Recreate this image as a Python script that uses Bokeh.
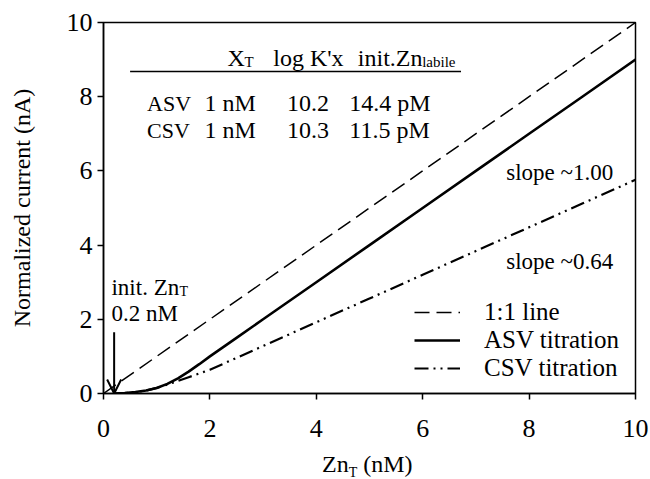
from bokeh.plotting import figure
from bokeh.models import Label, Legend, LegendItem, Arrow, OpenHead, Range1d, FixedTicker, Div
from bokeh.layouts import column
from bokeh.embed import file_html
from bokeh.resources import INLINE

# ---------------- data ----------------
zn_total = [0.2, 0.4, 0.6, 0.8, 1.0, 1.2, 1.4, 1.6, 1.8, 2.0, 2.5, 3.0, 4.0, 5.0, 6.0, 7.0, 8.0, 9.0, 10.0]
asv_current = [0.0, 0.01, 0.04, 0.08, 0.15, 0.26, 0.41, 0.59, 0.79, 1.0, 1.5, 2.0, 3.0, 4.0, 5.0, 6.0, 7.0, 8.0, 9.0]
csv_current = [0.0, 0.01, 0.04, 0.08, 0.15, 0.24, 0.34, 0.44, 0.54, 0.64, 0.96, 1.28, 1.92, 2.56, 3.20, 3.84, 4.48, 5.12, 5.76]
one_to_one_x = [0.0, 10.0]
one_to_one_y = [0.0, 10.0]

x_ticks = [0, 2, 4, 6, 8, 10]
y_ticks = [0, 2, 4, 6, 8, 10]

legend_labels = ["1:1 line", "ASV titration", "CSV titration"]
methods = ["ASV", "CSV"]
ligand_totals = ["1 nM", "1 nM"]
log_k = ["10.2", "10.3"]
init_labile = ["14.4 pM", "11.5 pM"]
init_znt = 0.2
init_znt_label = "0.2 nM"
slope_labels = ["slope ~1.00", "slope ~0.64"]

# ---------------- styling / layout ----------------
FONT = "Liberation Serif"
W, H = 650, 451

p = figure(width=W, height=H, output_backend="svg", toolbar_location=None,
           x_range=Range1d(0, 10), y_range=Range1d(0, 10),
           min_border_left=103, min_border_right=15, min_border_top=22, min_border_bottom=58)
p.grid.visible = False
p.outline_line_color = "black"
p.outline_line_width = 1.5
p.background_fill_color = "white"

for ax, ticks in ((p.xaxis[0], x_ticks), (p.yaxis[0], y_ticks)):
    ax.ticker = FixedTicker(ticks=ticks)
    ax.minor_tick_line_color = None
    ax.major_tick_in = 0
    ax.major_tick_out = 6
    ax.axis_line_width = 1.5
    ax.major_tick_line_width = 1.5
    ax.axis_line_color = "black"
    ax.major_tick_line_color = "black"
    ax.major_label_text_font = FONT
    ax.major_label_text_font_size = "26px"
    ax.major_label_text_color = "black"

p.xaxis.major_label_standoff = 20
p.yaxis.major_label_standoff = 5
p.yaxis.axis_label = "Normalized current (nA)"
p.yaxis.axis_label_text_font = FONT
p.yaxis.axis_label_text_font_size = "24px"
p.yaxis.axis_label_text_font_style = "normal"
p.yaxis.axis_label_text_color = "black"
p.yaxis.axis_label_standoff = 29

# ---------------- lines ----------------
r_11 = p.line(one_to_one_x, one_to_one_y, line_color="black", line_width=1.5, line_dash="15 7")
r_asv = p.line(zn_total, asv_current, line_color="black", line_width=2.6)
r_csv = p.line(zn_total, csv_current, line_color="black", line_width=2.2, line_dash="14 5 2 5 2 5")

legend = Legend(items=[LegendItem(label=legend_labels[0], renderers=[r_11]),
                       LegendItem(label=legend_labels[1], renderers=[r_asv]),
                       LegendItem(label=legend_labels[2], renderers=[r_csv])],
                location=(311, 11), border_line_color=None, background_fill_alpha=0,
                padding=0, margin=0, spacing=0, glyph_width=46, glyph_height=28,
                label_height=28, label_standoff=24, label_text_font=FONT,
                label_text_font_size="25px", label_text_color="black")
p.add_layout(legend)

# ---------------- annotations ----------------
def lab(x, y, text, size="24px", align="left", units="data"):
    p.add_layout(Label(x=x, y=y, text=text, x_units=units, y_units=units,
                       text_font=FONT, text_font_size=size, text_align=align,
                       text_baseline="alphabetic", text_color="black"))

# table header
lab(2.33, 9.04, "X")
lab(2.65, 8.93, "T", size="15px")
lab(3.19, 9.04, "log K'x")
lab(4.78, 9.04, "init.Zn")
lab(5.99, 8.93, "labile", size="15px")
p.segment(x0=[0.50], y0=[8.68], x1=[6.72], y1=[8.68], line_color="black", line_width=1.5)
row_y = [7.82, 7.09]
for i in range(2):
    lab(0.82, row_y[i], methods[i], size="22px")
    lab(1.90, row_y[i], ligand_totals[i])
    lab(3.45, row_y[i], log_k[i])
    lab(4.62, row_y[i], init_labile[i])

# slope labels
lab(7.57, 5.97, slope_labels[0], size="23px")
lab(7.57, 3.55, slope_labels[1], size="23px")

# initial Zn_T annotation
lab(0.15, 2.85, "init. Zn", size="23px")
lab(1.43, 2.74, "T", size="14px")
lab(0.15, 2.15, init_znt_label, size="23px")
p.add_layout(Arrow(end=OpenHead(size=14, line_width=2, line_color="black"),
                   x_start=init_znt, y_start=1.65, x_end=init_znt, y_end=0.0,
                   line_width=2, line_color="black"))

# x axis label (with subscript) placed under the figure
x_label = Div(text='<div style="position:absolute; left:322px; top:1px; white-space:nowrap; '
                   'font-family:\'Liberation Serif\'; font-size:24px; line-height:24px; color:black;">'
                   'Zn<sub style="font-size:14px; vertical-align:-5px;">T</sub> (nM)</div>',
              width=W, height=28, margin=(0, 0, 0, 0))

layout = column(p, x_label, spacing=0)
open("out.html", "w").write(file_html(layout, INLINE))
